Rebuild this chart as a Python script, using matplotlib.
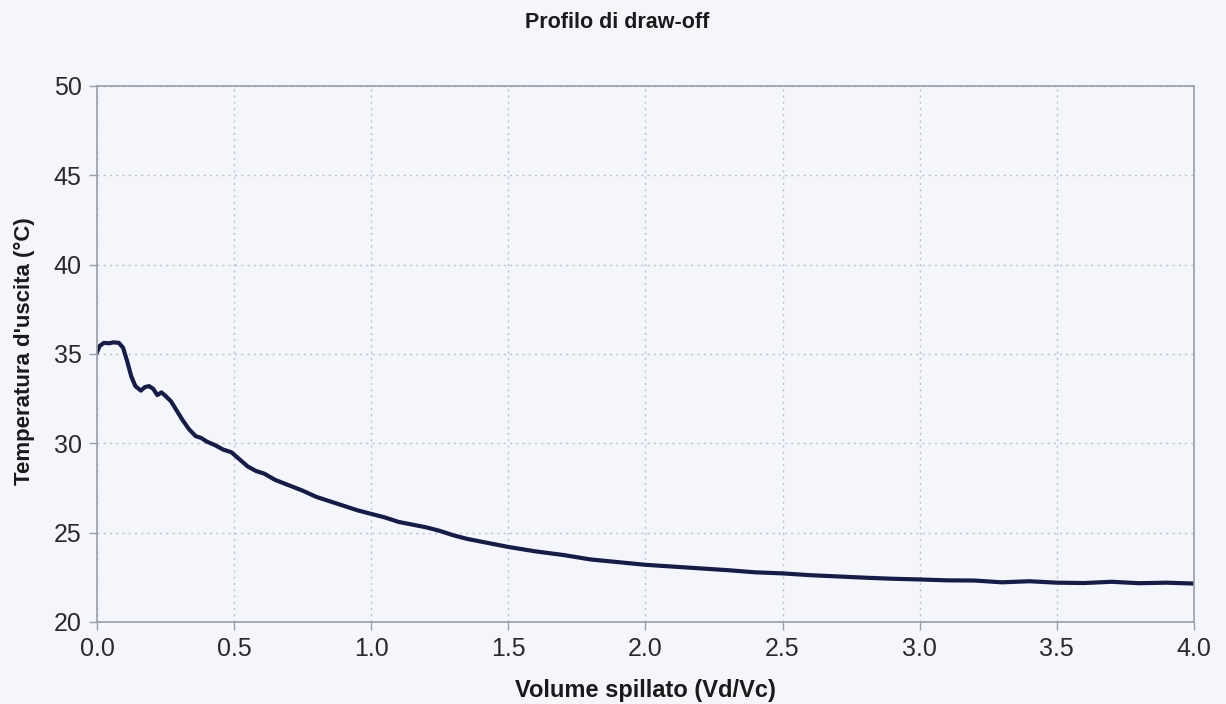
import matplotlib.pyplot as plt

plt.rcParams['font.family'] = ['Liberation Sans', 'DejaVu Sans']

# values
vol = [0.000, 0.010, 0.025, 0.045, 0.060, 0.080, 0.095, 0.110, 0.125, 0.140,
       0.160, 0.175, 0.190, 0.205, 0.220, 0.235, 0.250, 0.270, 0.290, 0.310,
       0.335, 0.360, 0.380, 0.400, 0.430, 0.460, 0.490, 0.520, 0.550, 0.580,
       0.610, 0.650, 0.700, 0.750, 0.800, 0.850, 0.900, 0.950, 1.000, 1.050,
       1.100, 1.150, 1.200, 1.250, 1.300, 1.350, 1.400, 1.450, 1.500, 1.600,
       1.700, 1.800, 1.900, 2.000, 2.100, 2.200, 2.300, 2.400, 2.500, 2.600,
       2.700, 2.800, 2.900, 3.000, 3.100, 3.200, 3.300, 3.350, 3.400, 3.500,
       3.600, 3.700, 3.800, 3.900, 4.000]
temp = [35.10, 35.45, 35.62, 35.60, 35.65, 35.62, 35.35, 34.60, 33.75, 33.20,
        32.95, 33.15, 33.20, 33.05, 32.70, 32.85, 32.65, 32.35, 31.85, 31.35,
        30.80, 30.40, 30.30, 30.10, 29.90, 29.65, 29.50, 29.10, 28.70, 28.45,
        28.30, 27.95, 27.65, 27.35, 27.00, 26.75, 26.50, 26.25, 26.05, 25.85,
        25.60, 25.45, 25.30, 25.10, 24.85, 24.65, 24.50, 24.35, 24.20, 23.95,
        23.75, 23.50, 23.35, 23.20, 23.10, 23.00, 22.90, 22.78, 22.72, 22.62,
        22.55, 22.48, 22.42, 22.38, 22.33, 22.32, 22.22, 22.25, 22.28, 22.20,
        22.18, 22.25, 22.17, 22.20, 22.15]

x_ticks = [0.0, 0.5, 1.0, 1.5, 2.0, 2.5, 3.0, 3.5, 4.0]
y_ticks = [20, 25, 30, 35, 40, 45, 50]

bg = '#f4f6fc'
fig = plt.figure(figsize=(12.26, 7.04), dpi=100, facecolor=bg)
ax = fig.add_axes([0.0791, 0.1165, 0.8947, 0.7614], facecolor=bg)

ax.plot(vol, temp, color='#161c46', lw=3.0, solid_joinstyle='round')

ax.set_xlim(0, 4)
ax.set_ylim(20, 50)
ax.set_xticks(x_ticks)
ax.set_xticklabels(['%.1f' % v for v in x_ticks])
ax.set_yticks(y_ticks)
ax.grid(True, color='#bcc0cc', linestyle=(0, (1.5, 3)), linewidth=1.0)
for s in ax.spines.values():
    s.set_color('#9a9ea8')
    s.set_linewidth(1.2)
ax.tick_params(direction='out', length=6, width=1, color='#9a9ea8',
               labelsize=18, labelcolor='#2a2a2a', pad=5)

ax.set_xlabel('Volume spillato (Vd/Vc)', fontsize=17, fontweight='bold',
              color='#1a1a1a', va='center')
ax.xaxis.set_label_coords(0.5, -0.127)
ax.set_ylabel("Temperatura d'uscita (°C)", fontsize=16, fontweight='bold',
              color='#1a1a1a', va='center')
ax.yaxis.set_label_coords(-0.066, 0.505)
fig.text(617 / 1226, 1 - 22 / 704, 'Profilo di draw-off', ha='center', va='center',
         fontsize=15.5, fontweight='bold', color='#1a1a1a')

fig.savefig('out.png', dpi=100, facecolor=bg)
